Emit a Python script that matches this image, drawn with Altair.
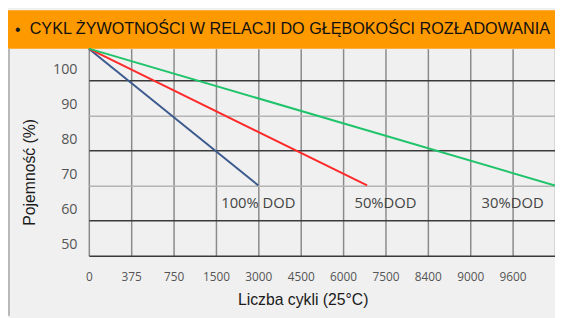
import altair as alt
import pandas as pd

TITLE = "CYKL ŻYWOTNOŚCI W RELACJI DO GŁĘBOKOŚCI ROZŁADOWANIA"
BULLET = "•"
X_TITLE = "Liczba cykli (25°C)"
Y_TITLE = "Pojemność (%)"

X_TICKS = [0, 375, 750, 1500, 3000, 4500, 6000, 7500, 8400, 9000, 9600]
X_END = 10200
Y_TICKS = [50, 60, 70, 80, 90, 100]
Y_MAX = 109

SERIES = ["100% DOD", "50%DOD", "30%DOD"]
CYCLES_100 = [0, 3000]
CAP_100 = [109, 70]
CYCLES_50 = [0, 6850]
CAP_50 = [109, 70]
CYCLES_30 = [0, 10200]
CAP_30 = [109, 70]
LABEL_X = [3000, 7500, 9600]
LABEL_Y = [65, 65, 65]
COLORS = ["#3d5a8e", "#ff2a2a", "#1fc46a"]

W, H = 473, 210
PAD = {"left": 82, "top": 39, "right": 0, "bottom": 61}

rows = []
for name, xs, ys in zip(SERIES, [CYCLES_100, CYCLES_50, CYCLES_30], [CAP_100, CAP_50, CAP_30]):
    for x, y in zip(xs, ys):
        rows.append({"series": name, "cycles": x, "cap": y})
lines_df = pd.DataFrame(rows)
labels_df = pd.DataFrame({"series": SERIES, "cycles": LABEL_X, "cap": LABEL_Y})

x_domain = X_TICKS + [X_END]
x_range = [i * W / (len(x_domain) - 1) for i in range(len(x_domain))]

x_scale = alt.Scale(domain=x_domain, range=x_range, nice=False, zero=False)
y_scale = alt.Scale(domain=[50, Y_MAX], nice=False, zero=False)

x_axis = alt.Axis(
    values=x_domain, title=X_TITLE, ticks=False, domain=False, grid=True,
    gridColor="#8a8a8a", gridWidth=1.5, format="d",
    labelExpr="datum.value == %d ? '' : '' + datum.value" % X_END,
    labelFont="Open Sans", labelFontSize=12, labelColor="#555555",
    labelPadding=21, labelBaseline="middle", labelFlush=False,
    titleFont="Liberation Sans", titleFontSize=16, titleFontWeight="normal",
    titleColor="#1a1a1a", titleX=217, titleY=45, titleBaseline="middle",
)
y_axis = alt.Axis(
    values=Y_TICKS, title=Y_TITLE, ticks=False, domain=False, grid=True,
    gridColor={"condition": {"test": "datum.value == 90 || datum.value == 70", "value": "#b4b4b4"}, "value": "#3a3a3a"},
    gridWidth=1.5,
    labelFont="Open Sans", labelFontSize=14.5, labelColor="#555555",
    labelPadding=12, labelOffset=-11, labelBaseline="middle",
    titleFont="Liberation Sans", titleFontSize=16, titleFontWeight="normal",
    titleColor="#1a1a1a", titleX=-60, titleY=125, titleAngle=270,
    titleBaseline="middle", titleAlign="center",
)

color_scale = alt.Scale(domain=SERIES, range=COLORS)

lines = alt.Chart(lines_df).mark_line(strokeWidth=2, clip=False).encode(
    x=alt.X("cycles:Q", scale=x_scale, axis=x_axis),
    y=alt.Y("cap:Q", scale=y_scale, axis=y_axis),
    color=alt.Color("series:N", scale=color_scale, legend=None),
    detail="series:N",
)

texts = alt.Chart(labels_df).mark_text(
    font="Open Sans", fontSize=15, color="#444444", align="center", baseline="middle"
).encode(
    x=alt.X("cycles:Q", scale=x_scale),
    y=alt.Y("cap:Q", scale=y_scale),
    text="series:N",
)

banner = alt.Chart(pd.DataFrame({"t": [TITLE]})).mark_rect(color="#ff9900", clip=False).encode(
    x=alt.value(-PAD["left"]), x2=alt.value(W), y=alt.value(-PAD["top"]), y2=alt.value(0)
)
border = alt.Chart(pd.DataFrame({"t": [TITLE]})).mark_rule(color="#b8b8b8", strokeWidth=2, clip=False).encode(
    x=alt.value(-PAD["left"] + 1), y=alt.value(0), y2=alt.value(H + PAD["bottom"])
)
bullet = alt.Chart(pd.DataFrame({"t": [BULLET]})).mark_text(
    align="left", baseline="middle", fontSize=16, color="#1a1a1a", font="Liberation Sans"
).encode(x=alt.value(-75), y=alt.value(-19), text="t:N")
title = alt.Chart(pd.DataFrame({"t": [TITLE]})).mark_text(
    align="left", baseline="middle", fontSize=16.4, color="#111111",
    font="Liberation Sans"
).encode(x=alt.value(-60), y=alt.value(-20), text="t:N")

chart = alt.layer(banner, border, lines, texts, bullet, title).properties(
    width=W, height=H,
    autosize=alt.AutoSizeParams(type="none"),
    padding=PAD,
    background="#f0f0f0",
).configure_view(stroke=None, fill="#f0f0f0")

chart.save("out.html", embed_options={"renderer": "svg", "actions": False})
